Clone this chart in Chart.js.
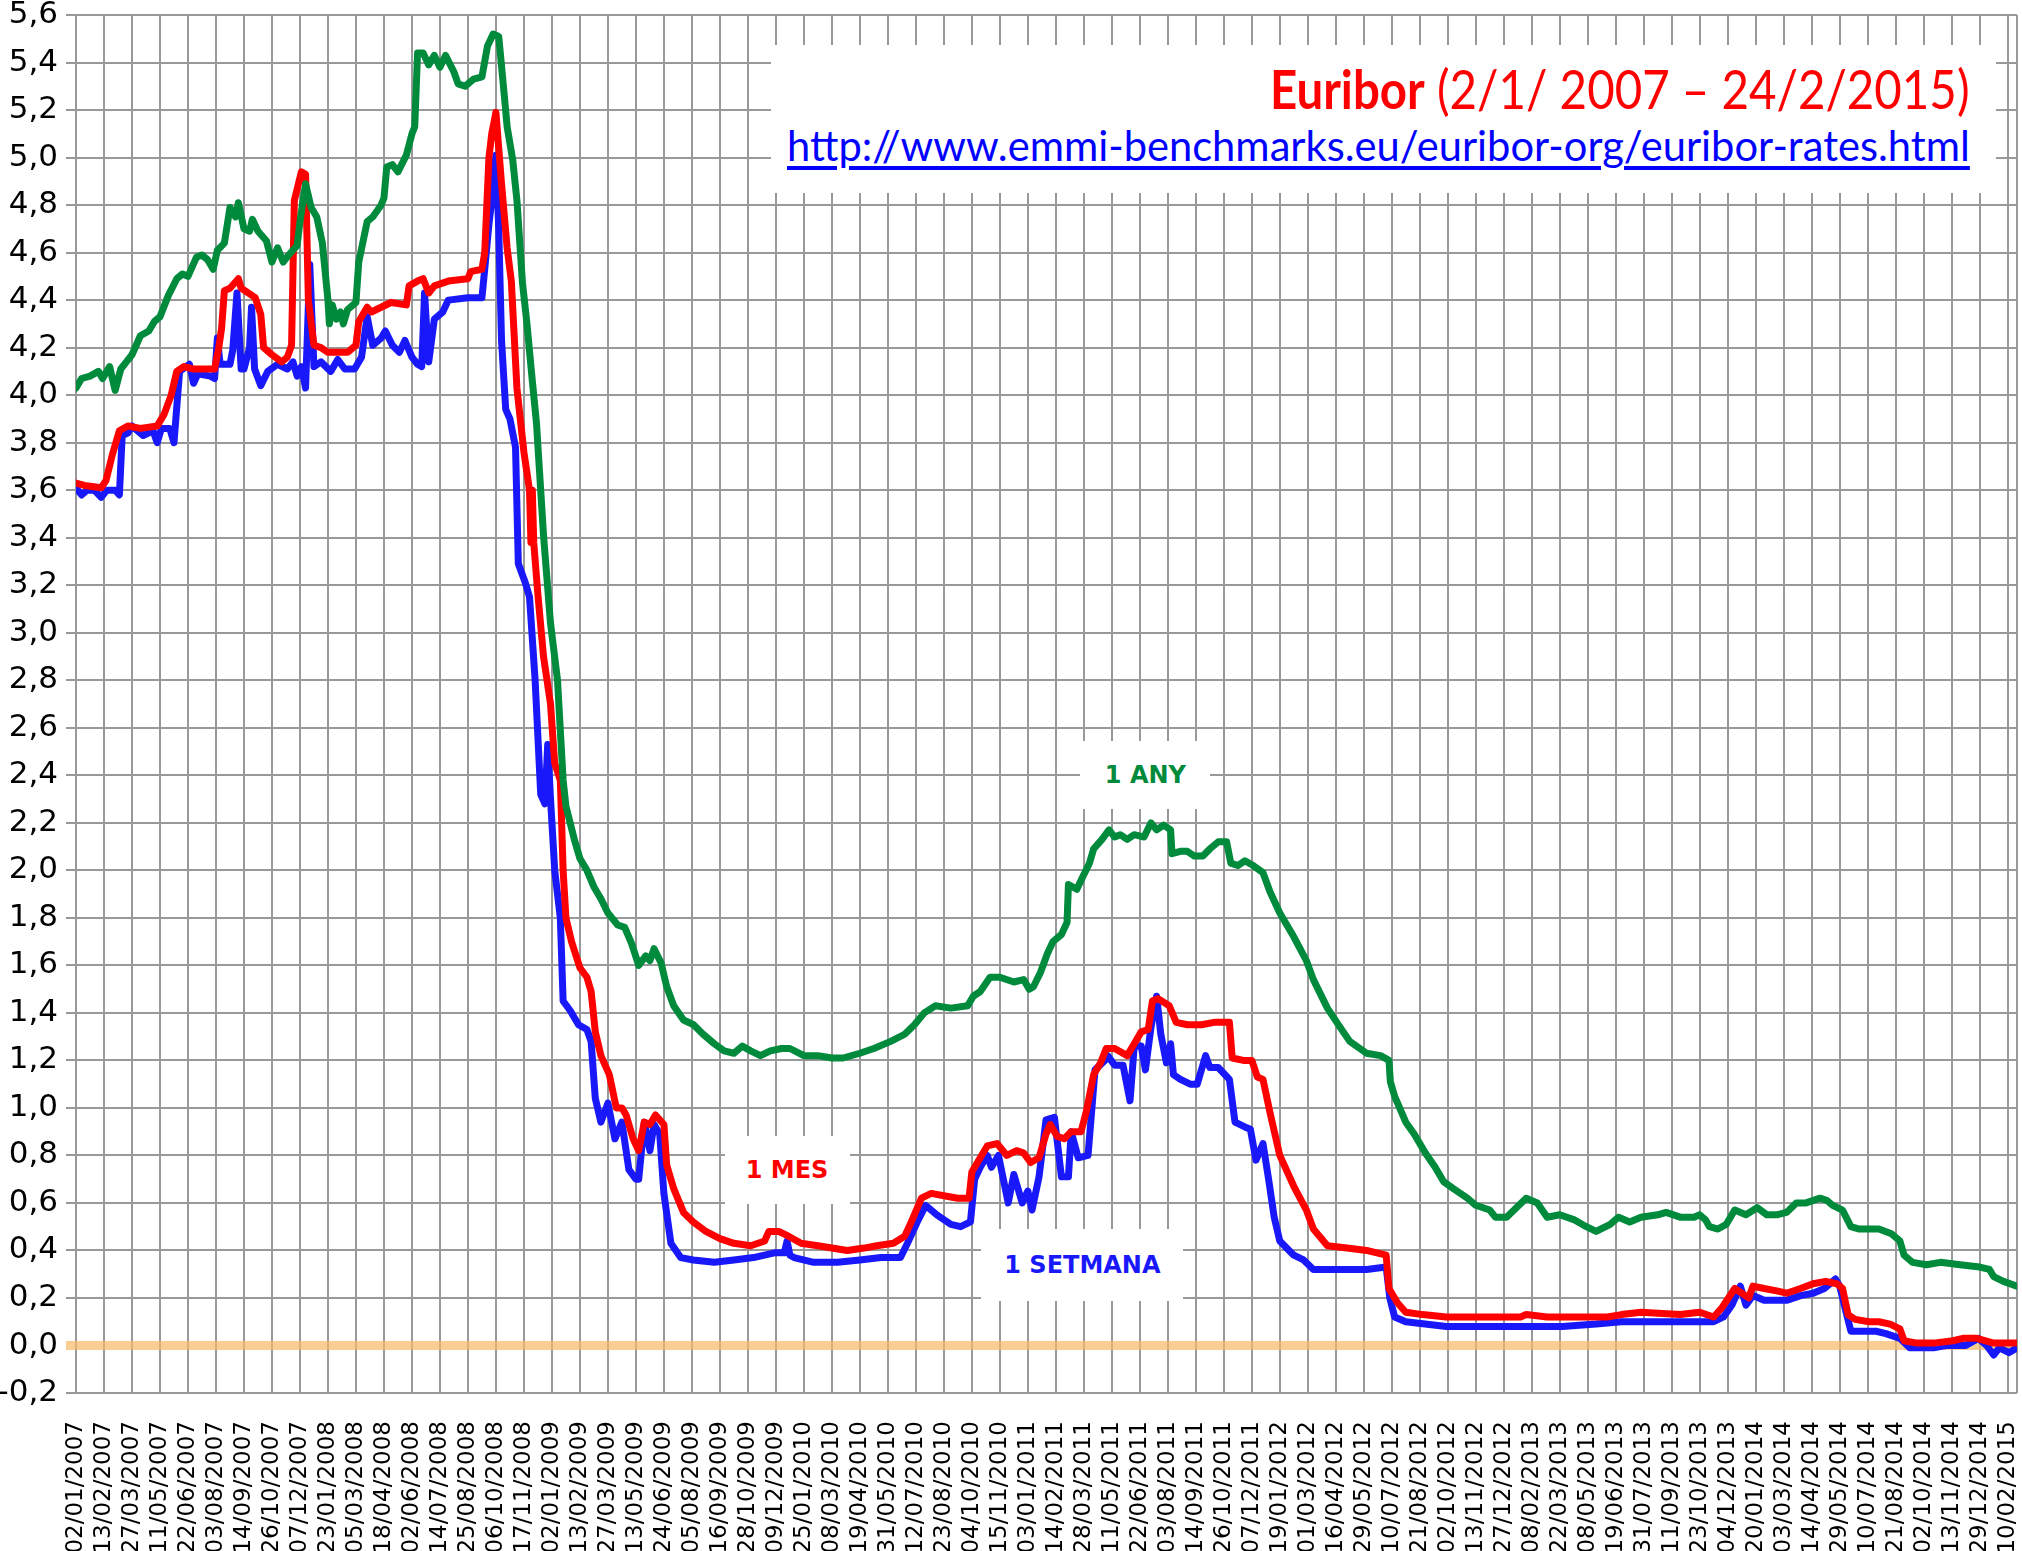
<!DOCTYPE html>
<html>
<head>
<meta charset="utf-8">
<title>Euribor 2007-2015</title>
<script src="https://cdn.jsdelivr.net/npm/chart.js@4.4.0/dist/chart.umd.min.js"></script>
<style>
  html, body { margin: 0; padding: 0; background: #fff; }
  #wrap { position: relative; width: 2022px; height: 1551px; overflow: hidden; }
  #chart { position: absolute; left: 0; top: 0; }
  .titlebox { position: absolute; left: 771px; top: 45px; width: 1225px; height: 148px; background: #fff; }
  .title, .url { position: absolute; white-space: nowrap; transform-origin: right top; font-family: Lato, "Open Sans", sans-serif; line-height: 1.2; }
  .title { right: 52px; top: 57px; font-size: 54px; color: #ff0000; }
  .title b { font-weight: bold; }
  .url { right: 52px; top: 119px; font-size: 43px; color: #0000ff; text-decoration: underline; text-decoration-thickness: 4px; text-underline-offset: 5px; }
  .note { position: absolute; background: #fff; display: flex; align-items: center; justify-content: center;
          font-family: "DejaVu Sans", sans-serif; font-weight: bold; font-size: 24px; }
</style>
</head>
<body>
<div id="wrap">
  <canvas id="chart" width="2022" height="1551"></canvas>
  <div class="titlebox"></div>
  <div class="title" id="title"><b>Euribor</b> (2/1/ 2007 – 24/2/2015)</div>
  <a class="url" id="url" href="http://www.emmi-benchmarks.eu/euribor-org/euribor-rates.html">http://www.emmi-benchmarks.eu/euribor-org/euribor-rates.html</a>
</div>
<script>
// x labels, one every 30 trading days (02/01/2007 .. 10/02/2015)
const dateLabels = [
  '02/01/2007','13/02/2007','27/03/2007','11/05/2007','22/06/2007','03/08/2007','14/09/2007','26/10/2007','07/12/2007',
  '23/01/2008','05/03/2008','18/04/2008','02/06/2008','14/07/2008','25/08/2008','06/10/2008','17/11/2008',
  '02/01/2009','13/02/2009','27/03/2009','13/05/2009','24/06/2009','05/08/2009','16/09/2009','28/10/2009','09/12/2009',
  '25/01/2010','08/03/2010','19/04/2010','31/05/2010','12/07/2010','23/08/2010','04/10/2010','15/11/2010',
  '03/01/2011','14/02/2011','28/03/2011','11/05/2011','22/06/2011','03/08/2011','14/09/2011','26/10/2011','07/12/2011',
  '19/01/2012','01/03/2012','16/04/2012','29/05/2012','10/07/2012','21/08/2012','02/10/2012','13/11/2012','27/12/2012',
  '08/02/2013','22/03/2013','08/05/2013','19/06/2013','31/07/2013','11/09/2013','23/10/2013','04/12/2013',
  '20/01/2014','03/03/2014','14/04/2014','29/05/2014','10/07/2014','21/08/2014','02/10/2014','13/11/2014','29/12/2014',
  '10/02/2015'
];
// last data day (24/02/2015) sits 10 trading days after the last label
const lastStep = 69 + 10 / 30;

// [position in label steps, rate %]
const setmanaRates = [
  [0,3.61],[0.2,3.58],[0.4,3.6],[0.65,3.6],[0.9,3.57],[1.1,3.6],[1.4,3.6],[1.55,3.58],[1.65,3.83],[1.85,3.84],
  [2,3.87],[2.4,3.83],[2.75,3.85],[2.9,3.8],[3.05,3.86],[3.35,3.86],[3.5,3.8],[3.7,4.1],[4.05,4.13],[4.2,4.05],
  [4.35,4.09],[4.8,4.08],[4.95,4.07],[5.05,4.24],[5.15,4.13],[5.5,4.13],[5.6,4.19],[5.75,4.43],[5.9,4.11],[6,4.11],
  [6.2,4.2],[6.27,4.37],[6.38,4.11],[6.6,4.04],[6.85,4.1],[7.2,4.13],[7.55,4.11],[7.75,4.14],[7.9,4.08],[8.05,4.12],
  [8.2,4.03],[8.35,4.55],[8.5,4.12],[8.75,4.14],[9.1,4.1],[9.35,4.15],[9.6,4.11],[9.95,4.11],[10.2,4.16],[10.4,4.33],
  [10.6,4.21],[10.9,4.24],[11.05,4.27],[11.3,4.21],[11.55,4.18],[11.75,4.23],[12,4.16],[12.2,4.13],[12.35,4.12],[12.45,4.43],
  [12.6,4.14],[12.8,4.32],[13.1,4.35],[13.3,4.4],[14,4.41],[14.5,4.41],[14.6,4.53],[14.75,4.72],[14.85,4.82],[15,5.01],
  [15.1,4.7],[15.2,4.23],[15.35,3.94],[15.5,3.9],[15.7,3.78],[15.8,3.29],[16.05,3.21],[16.2,3.15],[16.4,2.8],[16.6,2.32],
  [16.75,2.28],[16.85,2.53],[16.95,2.3],[17.1,2.0],[17.3,1.8],[17.4,1.45],[17.65,1.41],[17.95,1.35],[18.25,1.33],[18.4,1.28],
  [18.55,1.04],[18.75,0.94],[19,1.02],[19.25,0.87],[19.5,0.94],[19.75,0.74],[20,0.7],[20.1,0.7],[20.3,0.94],[20.5,0.82],
  [20.65,0.93],[20.85,0.89],[21,0.64],[21.25,0.43],[21.6,0.37],[22.05,0.36],[22.8,0.35],[23.5,0.36],[24.2,0.37],[24.95,0.39],
  [25.3,0.39],[25.4,0.44],[25.5,0.38],[25.65,0.37],[26.35,0.35],[27.2,0.35],[28,0.36],[28.75,0.37],[29.45,0.37],[29.7,0.43],
  [30.05,0.52],[30.35,0.59],[30.75,0.55],[31.25,0.51],[31.6,0.5],[31.95,0.52],[32.1,0.7],[32.3,0.75],[32.55,0.8],[32.7,0.75],
  [32.95,0.8],[33.3,0.6],[33.5,0.72],[33.8,0.6],[34,0.65],[34.15,0.57],[34.4,0.71],[34.65,0.95],[34.95,0.96],[35.2,0.71],
  [35.45,0.71],[35.55,0.9],[35.8,0.79],[36.15,0.8],[36.4,1.16],[36.75,1.2],[36.85,1.22],[37.1,1.18],[37.4,1.18],[37.65,1.03],
  [37.8,1.26],[38.05,1.26],[38.2,1.16],[38.4,1.34],[38.6,1.47],[38.75,1.31],[38.95,1.19],[39.1,1.27],[39.2,1.14],[39.45,1.12],
  [39.8,1.1],[40.05,1.1],[40.35,1.22],[40.5,1.17],[40.8,1.17],[41.2,1.12],[41.4,0.94],[41.75,0.92],[41.95,0.91],[42.15,0.78],
  [42.4,0.85],[42.6,0.7],[42.8,0.54],[43,0.44],[43.5,0.38],[43.85,0.36],[44.2,0.32],[45.15,0.32],[46.1,0.32],[46.8,0.33],
  [46.93,0.2],[47.1,0.12],[47.5,0.1],[48.95,0.08],[50.75,0.08],[51.95,0.08],[53.1,0.08],[54.3,0.09],[55.2,0.1],[56.1,0.1],
  [57.3,0.1],[58.5,0.1],[58.85,0.12],[59.15,0.17],[59.45,0.25],[59.65,0.17],[59.9,0.21],[60.3,0.19],[61.1,0.19],[61.6,0.21],
  [62.05,0.22],[62.45,0.24],[62.85,0.28],[63,0.25],[63.25,0.13],[63.4,0.06],[64.3,0.06],[64.65,0.05],[65.15,0.03],[65.5,-0.01],
  [66.35,-0.01],[66.8,0],[67.5,0],[67.95,0.03],[68.25,0],[68.5,-0.04],[68.7,-0.01],[69.05,-0.03],[69.33,-0.01]
];

const mesRates = [
  [0,3.63],[0.3,3.62],[0.9,3.61],[1.07,3.64],[1.3,3.75],[1.55,3.85],[1.85,3.87],[2.3,3.86],[2.9,3.87],[3.15,3.92],
  [3.4,4.0],[3.6,4.1],[3.85,4.12],[4.2,4.11],[4.95,4.11],[5.1,4.2],[5.2,4.28],[5.3,4.44],[5.5,4.45],[5.8,4.49],
  [5.9,4.45],[6.4,4.41],[6.6,4.34],[6.7,4.2],[7,4.17],[7.35,4.14],[7.55,4.16],[7.7,4.21],[7.8,4.82],[8.05,4.94],
  [8.2,4.93],[8.3,4.4],[8.5,4.21],[8.75,4.2],[9,4.18],[9.7,4.18],[10,4.21],[10.1,4.31],[10.4,4.37],[10.55,4.35],
  [10.9,4.37],[11.25,4.39],[11.8,4.38],[11.9,4.46],[12.2,4.48],[12.4,4.49],[12.6,4.43],[12.8,4.46],[13.3,4.48],[14,4.49],
  [14.1,4.52],[14.5,4.53],[14.6,4.6],[14.75,5.0],[14.85,5.1],[15,5.19],[15.2,4.89],[15.4,4.62],[15.55,4.48],[15.75,4.03],
  [16,3.76],[16.2,3.6],[16.25,3.38],[16.3,3.6],[16.35,3.38],[16.5,3.16],[16.7,2.9],[16.95,2.7],[17.1,2.45],[17.3,2.38],
  [17.4,2.0],[17.5,1.8],[17.7,1.7],[18,1.59],[18.25,1.55],[18.4,1.49],[18.55,1.32],[18.75,1.22],[19.05,1.14],[19.3,1.0],
  [19.5,1.0],[19.65,0.97],[19.9,0.87],[20.1,0.82],[20.3,0.94],[20.5,0.93],[20.7,0.97],[21,0.93],[21.1,0.76],[21.35,0.66],
  [21.7,0.56],[22.05,0.52],[22.5,0.48],[23,0.45],[23.5,0.43],[24.1,0.42],[24.6,0.44],[24.75,0.48],[25.1,0.48],[25.45,0.46],
  [25.9,0.43],[26.5,0.42],[27,0.41],[27.55,0.4],[28.15,0.41],[28.6,0.42],[29.2,0.43],[29.6,0.46],[29.8,0.51],[30.2,0.62],
  [30.55,0.64],[31,0.63],[31.5,0.62],[31.9,0.62],[32,0.73],[32.3,0.79],[32.55,0.84],[32.9,0.85],[33.25,0.8],[33.6,0.82],
  [33.85,0.81],[34.1,0.77],[34.4,0.79],[34.65,0.89],[34.8,0.93],[35.05,0.88],[35.3,0.87],[35.55,0.9],[35.9,0.9],[36.1,0.99],
  [36.35,1.14],[36.6,1.19],[36.8,1.25],[37.1,1.25],[37.55,1.22],[37.8,1.27],[38.05,1.32],[38.3,1.33],[38.45,1.45],[38.65,1.46],
  [39.05,1.43],[39.3,1.36],[39.7,1.35],[40.2,1.35],[40.65,1.36],[41.2,1.36],[41.3,1.21],[41.7,1.2],[42,1.2],[42.2,1.13],
  [42.4,1.12],[42.65,0.98],[43,0.8],[43.5,0.67],[43.95,0.57],[44.2,0.49],[44.7,0.42],[45.4,0.41],[46.1,0.4],[46.8,0.38],
  [46.9,0.24],[47.2,0.18],[47.5,0.14],[48.1,0.13],[48.95,0.12],[50.15,0.12],[51.6,0.12],[51.8,0.13],[52.55,0.12],[53.75,0.12],
  [54.7,0.12],[55.2,0.13],[55.9,0.14],[57.3,0.13],[58,0.14],[58.5,0.12],[58.8,0.16],[59.25,0.24],[59.5,0.22],[59.75,0.2],
  [59.9,0.25],[60.3,0.24],[60.75,0.23],[61.1,0.22],[61.6,0.24],[62.05,0.26],[62.5,0.27],[62.9,0.26],[63.1,0.24],[63.3,0.13],
  [63.55,0.11],[64.05,0.1],[64.4,0.1],[64.8,0.09],[65.15,0.07],[65.3,0.02],[65.75,0.01],[66.35,0.01],[67.05,0.02],[67.4,0.03],
  [67.9,0.03],[68.5,0.01],[69.33,0.01]
];

const anyRates = [
  [0,4.03],[0.2,4.07],[0.5,4.08],[0.8,4.1],[0.95,4.07],[1.2,4.12],[1.4,4.02],[1.6,4.11],[1.8,4.14],[2,4.17],
  [2.3,4.25],[2.6,4.27],[2.8,4.31],[3,4.33],[3.3,4.42],[3.6,4.49],[3.8,4.51],[4,4.5],[4.3,4.58],[4.5,4.59],
  [4.7,4.57],[4.9,4.53],[5.05,4.61],[5.3,4.64],[5.5,4.79],[5.7,4.75],[5.8,4.81],[6,4.7],[6.2,4.69],[6.3,4.74],
  [6.5,4.69],[6.8,4.65],[7,4.56],[7.2,4.62],[7.4,4.56],[7.6,4.59],[7.9,4.63],[8,4.73],[8.2,4.89],[8.4,4.79],
  [8.6,4.75],[8.8,4.64],[9,4.4],[9.05,4.3],[9.15,4.38],[9.3,4.32],[9.45,4.35],[9.55,4.3],[9.7,4.36],[10,4.39],
  [10.1,4.56],[10.4,4.73],[10.6,4.75],[10.9,4.8],[11,4.83],[11.1,4.96],[11.3,4.97],[11.5,4.94],[11.8,5.01],[12,5.1],
  [12.1,5.13],[12.2,5.44],[12.4,5.44],[12.6,5.39],[12.8,5.43],[13,5.38],[13.2,5.43],[13.5,5.36],[13.65,5.31],[13.9,5.3],
  [14.2,5.33],[14.5,5.34],[14.7,5.47],[14.9,5.52],[15.1,5.51],[15.3,5.26],[15.4,5.13],[15.6,4.99],[15.75,4.82],[15.95,4.47],
  [16.1,4.31],[16.3,4.06],[16.45,3.88],[16.7,3.41],[16.95,3.04],[17.2,2.8],[17.4,2.38],[17.5,2.27],[17.8,2.13],[18,2.05],
  [18.25,2.0],[18.5,1.93],[18.75,1.88],[19,1.82],[19.35,1.77],[19.6,1.76],[19.85,1.69],[20.1,1.6],[20.35,1.64],[20.5,1.62],
  [20.65,1.67],[20.9,1.61],[21.1,1.51],[21.35,1.43],[21.7,1.37],[22.06,1.35],[22.4,1.31],[22.8,1.27],[23.15,1.24],[23.5,1.23],
  [23.8,1.26],[24.1,1.24],[24.45,1.22],[24.8,1.24],[25.2,1.25],[25.5,1.25],[26,1.22],[26.5,1.22],[27,1.21],[27.4,1.21],
  [28,1.23],[28.5,1.25],[29.1,1.28],[29.6,1.31],[29.95,1.35],[30.3,1.4],[30.7,1.43],[31.25,1.42],[31.85,1.43],[32.05,1.47],
  [32.3,1.49],[32.65,1.55],[33,1.55],[33.5,1.53],[33.85,1.54],[34.05,1.5],[34.2,1.51],[34.45,1.57],[34.7,1.65],[34.9,1.7],
  [35.2,1.73],[35.4,1.78],[35.45,1.94],[35.75,1.92],[35.95,1.97],[36.2,2.03],[36.35,2.09],[36.65,2.13],[36.9,2.17],[37.1,2.14],
  [37.3,2.15],[37.55,2.13],[37.8,2.15],[38.15,2.14],[38.4,2.2],[38.6,2.17],[38.85,2.19],[39.1,2.17],[39.15,2.07],[39.45,2.08],
  [39.7,2.08],[39.95,2.06],[40.25,2.06],[40.5,2.09],[40.8,2.12],[41.1,2.12],[41.25,2.03],[41.5,2.02],[41.75,2.04],[42.05,2.02],
  [42.4,1.99],[42.65,1.91],[43,1.82],[43.5,1.72],[43.95,1.62],[44.2,1.54],[44.7,1.42],[45.15,1.34],[45.5,1.28],[46.1,1.23],
  [46.6,1.22],[46.9,1.2],[46.95,1.11],[47.1,1.05],[47.5,0.94],[47.8,0.89],[48.2,0.81],[48.55,0.75],[48.85,0.69],[49.2,0.66],
  [49.7,0.62],[50,0.59],[50.5,0.57],[50.7,0.54],[51.1,0.54],[51.45,0.58],[51.8,0.62],[52.2,0.6],[52.55,0.54],[53,0.55],
  [53.5,0.53],[53.95,0.5],[54.3,0.48],[54.8,0.51],[55.1,0.54],[55.5,0.52],[55.9,0.54],[56.5,0.55],[56.8,0.56],[57.3,0.54],
  [57.8,0.54],[58,0.55],[58.2,0.53],[58.35,0.5],[58.65,0.49],[58.95,0.51],[59.25,0.57],[59.65,0.55],[60.05,0.58],[60.4,0.55],
  [60.75,0.55],[61.1,0.56],[61.45,0.6],[61.8,0.6],[62.3,0.62],[62.55,0.61],[62.75,0.59],[63.1,0.57],[63.4,0.5],[63.7,0.49],
  [64.4,0.49],[64.85,0.47],[65.15,0.44],[65.3,0.38],[65.6,0.35],[66.1,0.34],[66.6,0.35],[67.3,0.34],[68,0.33],[68.35,0.32],
  [68.5,0.29],[68.85,0.27],[69.33,0.25]
];

const GREEN = '#008a3c';
const RED = '#ff0000';
const BLUE = '#1818fa';
const GRID = '#999999';
const ZERO_LINE = 'rgba(248, 184, 100, 0.7)';

// series name labels, anchored in data units
const notes = [
  { text: '1 ANY', x: 38.2, y: 2.40, color: GREEN, w: 130, h: 68 },
  { text: '1 MES', x: 25.4, y: 0.74, color: RED, w: 125, h: 68 },
  { text: '1 SETMANA', x: 35.95, y: 0.34, color: BLUE, w: 202, h: 72 }
];

const isZero = v => Math.abs(v) < 1e-9;
const toPoints = arr => arr.map(([x, y]) => ({ x, y }));

// right edge of the plot frame
const frame = {
  id: 'frame',
  beforeDatasetsDraw(chart) {
    const { ctx, chartArea: a } = chart;
    ctx.save();
    ctx.strokeStyle = GRID;
    ctx.lineWidth = 2;
    ctx.beginPath();
    ctx.moveTo(a.right, a.top);
    ctx.lineTo(a.right, a.bottom);
    ctx.stroke();
    ctx.restore();
  }
};

const lineStyle = color => ({
  borderColor: color,
  backgroundColor: color,
  borderWidth: 7,
  pointRadius: 0,
  tension: 0,
  borderJoinStyle: 'round',
  borderCapStyle: 'round',
  fill: false
});

const chart = new Chart(document.getElementById('chart'), {
  type: 'line',
  data: {
    datasets: [
      { label: '1 ANY', data: toPoints(anyRates), ...lineStyle(GREEN) },
      { label: '1 MES', data: toPoints(mesRates), ...lineStyle(RED) },
      { label: '1 SETMANA', data: toPoints(setmanaRates), ...lineStyle(BLUE) }
    ]
  },
  options: {
    responsive: false,
    animation: false,
    layout: { padding: { top: 15, right: 5, left: 0, bottom: 0 } },
    plugins: {
      legend: { display: false },
      tooltip: { enabled: false }
    },
    scales: {
      x: {
        type: 'linear',
        min: 0,
        max: lastStep,
        afterBuildTicks: s => { s.ticks = dateLabels.map((_, i) => ({ value: i })); },
        afterFit: s => { s.height = 158; s.paddingLeft = 0; s.paddingRight = 0; },
        ticks: {
          autoSkip: false,
          minRotation: 90,
          maxRotation: 90,
          padding: 28,
          color: '#000',
          font: { family: 'DejaVu Sans', size: 23 },
          callback: v => dateLabels[Math.round(v)] ?? ''
        },
        grid: { color: GRID, lineWidth: 2, drawTicks: false },
        border: { display: false }
      },
      y: {
        min: -0.2,
        max: 5.6,
        afterFit: s => { s.width = 76; s.paddingTop = 0; s.paddingBottom = 0; },
        ticks: {
          stepSize: 0.2,
          padding: 8,
          color: '#000',
          font: { family: 'DejaVu Sans', size: 31, lineHeight: 1 },
          callback: v => isZero(v) ? '0,0' : v.toFixed(1).replace('.', ',')
        },
        grid: {
          color: c => isZero(c.tick.value) ? ZERO_LINE : GRID,
          lineWidth: c => isZero(c.tick.value) ? 9 : 2,
          tickLength: 10
        },
        border: { display: false }
      }
    }
  },
  plugins: [frame]
});

// fit the condensed title lines to their width in the original
function squeeze(id, target) {
  const el = document.getElementById(id);
  el.style.transform = 'scaleX(' + (target / el.offsetWidth) + ')';
}
squeeze('title', 700);
squeeze('url', 1183);

// series name boxes
const wrap = document.getElementById('wrap');
notes.forEach(n => {
  const d = document.createElement('div');
  d.className = 'note';
  d.textContent = n.text;
  d.style.color = n.color;
  d.style.width = n.w + 'px';
  d.style.height = n.h + 'px';
  d.style.left = (chart.scales.x.getPixelForValue(n.x) - n.w / 2) + 'px';
  d.style.top = (chart.scales.y.getPixelForValue(n.y) - n.h / 2) + 'px';
  wrap.appendChild(d);
});
</script>
</body>
</html>
